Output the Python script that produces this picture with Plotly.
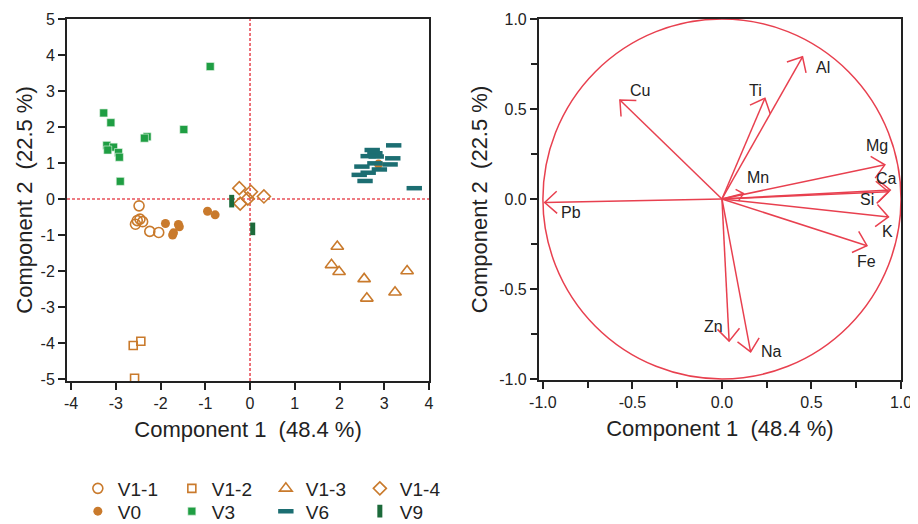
import math
import plotly.graph_objects as go

# ---------------- data: PCA scores (left panel) ----------------
v11_x = [-2.48, -2.46, -2.52, -2.40, -2.56, -2.24, -2.04]
v11_y = [-0.19, -0.56, -0.60, -0.63, -0.70, -0.90, -0.93]
v12_x = [-2.61, -2.44, -2.58]
v12_y = [-4.07, -3.95, -4.98]
v13_x = [1.95, 1.82, 1.99, 2.55, 2.61, 3.24, 3.51]
v13_y = [-1.32, -1.83, -2.02, -2.22, -2.76, -2.59, -2.00]
v14_x = [-0.24, 0.02, -0.05, -0.22, 0.31]
v14_y = [0.30, 0.20, 0.01, -0.13, 0.07]
v0_x = [-1.89, -1.60, -1.58, -1.71, -1.73, -0.95, -0.78, 2.87]
v0_y = [-0.68, -0.71, -0.77, -0.94, -1.00, -0.34, -0.44, 0.97]
v3_x = [-0.89, -3.27, -3.11, -1.48, -2.30, -2.36, -3.20, -3.05, -3.18, -2.94, -2.92, -2.90]
v3_y = [3.68, 2.39, 2.12, 1.93, 1.73, 1.69, 1.49, 1.44, 1.36, 1.29, 1.16, 0.49]
v6_x = [3.21, 2.73, 2.79, 2.64, 2.82, 3.19, 2.79, 3.13, 2.50, 2.89, 2.64, 2.44, 2.57, 3.67]
v6_y = [1.49, 1.36, 1.27, 1.19, 1.18, 1.13, 0.99, 0.96, 0.90, 0.82, 0.73, 0.67, 0.50, 0.30]
v9_x = [-0.41, 0.06]
v9_y = [-0.06, -0.83]

# ---------------- data: loadings (right panel) ----------------
var_names = ["Al", "Ti", "Cu", "Mg", "Ca", "Si", "K", "Fe", "Mn", "Pb", "Zn", "Na"]
load_x = [0.45, 0.24, -0.57, 0.91, 0.94, 0.93, 0.93, 0.81, 0.12, -0.99, 0.04, 0.16]
load_y = [0.79, 0.56, 0.55, 0.19, 0.05, 0.04, -0.10, -0.26, 0.03, -0.02, -0.79, -0.85]

# ---------------- tick labels ----------------
left_x_ticks = [-4, -3, -2, -1, 0, 1, 2, 3, 4]
left_x_text = ["-4", "-3", "-2", "-1", "0", "1", "2", "3", "4"]
left_y_ticks = [-5, -4, -3, -2, -1, 0, 1, 2, 3, 4, 5]
left_y_text = ["-5", "-4", "-3", "-2", "-1", "0", "1", "2", "3", "4", "5"]
right_ticks = [-1.0, -0.5, 0.0, 0.5, 1.0]
right_text = ["-1.0", "-0.5", "0.0", "0.5", "1.0"]

x_title = "Component 1\u00a0\u00a0(48.4 %)"
y_title = "Component 2\u00a0\u00a0(22.5 %)"

# ---------------- styles ----------------
ORANGE = "#c97a2c"
GREEN = "#1f9e43"
TEAL = "#1c6e72"
DKGREEN = "#1c6a3a"
RED = "#e8404f"
INK = "#222222"
FONT = "Liberation Sans, Arial, Helvetica, sans-serif"

# label offsets (px) for the loading labels
label_shift = {
    "Al": (20, -11), "Ti": (-9, 8), "Cu": (20, 9), "Mg": (-8, 19),
    "Ca": (-4, 11), "Si": (-21, -8), "K": (-1, -15), "Fe": (0, -16),
    "Mn": (15, 16), "Pb": (26, -10), "Zn": (-16, 15), "Na": (21, 0),
}

fig = go.Figure()

def add_group(name, xs, ys, symbol, size, color, legend, lw=1.6, fill=None):
    fig.add_trace(go.Scatter(
        x=xs, y=ys, mode="markers", name=name, legend=legend,
        marker=dict(symbol=symbol, size=size, color=fill if fill else color,
                    line=dict(color=color, width=lw)),
        xaxis="x", yaxis="y",
    ))

add_group("V1-1", v11_x, v11_y, "circle-open", 10, ORANGE, "legend")
add_group("V1-2", v12_x, v12_y, "square-open", 8, ORANGE, "legend")
add_group("V1-3", v13_x, v13_y, "triangle-up-open", 11, ORANGE, "legend")
add_group("V1-4", v14_x, v14_y, "diamond-open", 10, ORANGE, "legend")
add_group("V0", v0_x, v0_y, "circle", 9, ORANGE, "legend2", lw=0)
add_group("V3", v3_x, v3_y, "square", 8, "#e8f5ea", "legend2", lw=0.6, fill=GREEN)
add_group("V6", v6_x, v6_y, "line-ew", 11, TEAL, "legend2", lw=4.5, fill=TEAL)
add_group("V9", v9_x, v9_y, "line-ns", 9, DKGREEN, "legend2", lw=5, fill=DKGREEN)

# loading arrows built from the loading arrays
ax_, ay_ = [], []
for lx, ly in zip(load_x, load_y):
    L = math.hypot(lx, ly)
    ang = math.atan2(ly, lx)
    h = min(0.092, 0.4 * L)
    a = math.radians(42)
    ax_ += [0, lx, None,
            lx - h * math.cos(ang - a), lx, lx - h * math.cos(ang + a), None]
    ay_ += [0, ly, None,
            ly - h * math.sin(ang - a), ly, ly - h * math.sin(ang + a), None]
fig.add_trace(go.Scatter(x=ax_, y=ay_, mode="lines", showlegend=False,
                         line=dict(color=RED, width=1.5),
                         xaxis="x2", yaxis="y2", hoverinfo="skip"))

annotations = []
for nm, lx, ly in zip(var_names, load_x, load_y):
    dx, dy = label_shift[nm]
    annotations.append(dict(x=lx, y=ly, xref="x2", yref="y2", text=nm,
                            showarrow=False, xshift=dx, yshift=dy,
                            font=dict(family=FONT, size=16, color=INK)))

shapes = [
    dict(type="line", xref="x", yref="y domain", x0=0, x1=0, y0=0, y1=1,
         line=dict(color="#e8505a", width=1.6, dash="3px,2px"), layer="below"),
    dict(type="line", xref="x domain", yref="y", x0=0, x1=1, y0=0, y1=0,
         line=dict(color="#e8505a", width=1.6, dash="3px,2px"), layer="below"),
    dict(type="circle", xref="x2", yref="y2", x0=-1, x1=1, y0=-1, y1=1,
         line=dict(color=RED, width=1.5), layer="above"),
]

axis_common = dict(showgrid=False, zeroline=False, showline=True, linewidth=2,
                   linecolor=INK, mirror=True, ticks="outside", ticklen=7,
                   tickwidth=1.6, tickcolor=INK, automargin=False,
                   tickfont=dict(family=FONT, size=16, color=INK))
title_font = dict(family=FONT, size=22, color=INK)

# the page body adds an 8px margin, so the figure is 910x516
fig.update_layout(
    width=910, height=516,
    margin=dict(l=59, r=17, t=11, b=143, autoexpand=False),
    paper_bgcolor="white", plot_bgcolor="white",
    font=dict(family=FONT, color=INK),
    xaxis=dict(domain=[0.0, 0.4341], range=[-4.09, 4.0],
               tickvals=left_x_ticks, ticktext=left_x_text,
               title=dict(text=x_title, font=title_font, standoff=10),
               anchor="y", **axis_common),
    yaxis=dict(domain=[0.0, 1.0], range=[-5.056, 5.0],
               tickvals=left_y_ticks, ticktext=left_y_text,
               title=dict(text=y_title, font=title_font, standoff=2),
               anchor="x", **axis_common),
    xaxis2=dict(domain=[0.5659, 1.0], range=[-1.022, 1.0],
                tickvals=right_ticks, ticktext=right_text,
                minor=dict(ticks="outside", dtick=0.25, ticklen=6, tickwidth=1.6,
                           tickcolor=INK, showgrid=False),
                title=dict(text=x_title, font=title_font, standoff=10),
                anchor="y2", **axis_common),
    yaxis2=dict(domain=[0.0028, 1.0], range=[-1.006, 1.0],
                tickvals=right_ticks, ticktext=right_text,
                minor=dict(ticks="outside", dtick=0.25, ticklen=6, tickwidth=1.6,
                           tickcolor=INK, showgrid=False),
                title=dict(text=y_title, font=title_font, standoff=5),
                anchor="x2", **axis_common),
    legend=dict(orientation="h", x=0.013, y=-0.297, xanchor="left", yanchor="middle",
                entrywidth=49, entrywidthmode="pixels",
                font=dict(family=FONT, size=19, color=INK), bgcolor="rgba(0,0,0,0)"),
    legend2=dict(orientation="h", x=0.013, y=-0.360, xanchor="left", yanchor="middle",
                 entrywidth=49, entrywidthmode="pixels",
                 font=dict(family=FONT, size=19, color=INK), bgcolor="rgba(0,0,0,0)"),
    annotations=annotations,
    shapes=shapes,
    showlegend=True,
)

fig.write_html("out.html")
